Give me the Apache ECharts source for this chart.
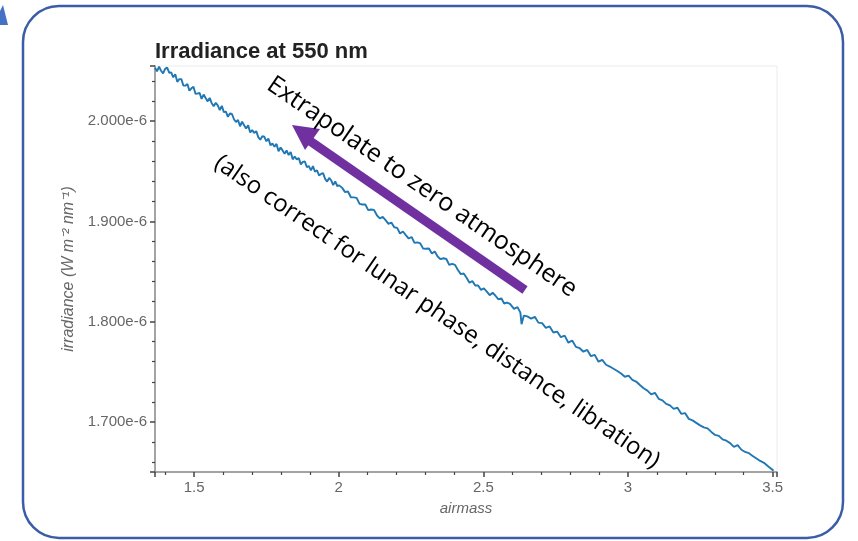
<!DOCTYPE html>
<html lang="en">
<head>
    <meta charset="UTF-8">
    <script src="https://cdn.jsdelivr.net/npm/echarts@6/dist/echarts.min.js"></script>
</head>
<style>
    html, body {
        margin: 0;
        width: 100%;
        height: 100%;
        background: #fff;
    }
</style>
<body>

<div id="main" style="width:858px;height:541px;"></div>

<script type="text/javascript">

    // airmass (x) and irradiance at 550 nm in units of 1e-6 W m^-2 nm^-1 (y)
    const airmass = [
        1.365, 1.372, 1.379, 1.386, 1.393, 1.400, 1.407, 1.414, 1.421, 1.428,
        1.435, 1.442, 1.449, 1.456, 1.463, 1.470, 1.477, 1.484, 1.491, 1.498,
        1.505, 1.512, 1.519, 1.526, 1.533, 1.540, 1.547, 1.554, 1.561, 1.568,
        1.575, 1.582, 1.589, 1.596, 1.603, 1.610, 1.617, 1.624, 1.631, 1.638,
        1.645, 1.652, 1.659, 1.666, 1.673, 1.680, 1.687, 1.694, 1.701, 1.708,
        1.715, 1.722, 1.729, 1.736, 1.743, 1.750, 1.757, 1.764, 1.771, 1.778,
        1.785, 1.792, 1.799, 1.806, 1.813, 1.820, 1.827, 1.834, 1.841, 1.848,
        1.855, 1.862, 1.869, 1.876, 1.883, 1.890, 1.897, 1.904, 1.911, 1.918,
        1.925, 1.932, 1.939, 1.946, 1.953, 1.960, 1.967, 1.974, 1.981, 1.988,
        1.995, 2.002,
        2.012, 2.022, 2.032, 2.042, 2.052, 2.062, 2.072, 2.082, 2.092, 2.102,
        2.112, 2.122, 2.132, 2.142, 2.152, 2.162, 2.172, 2.182, 2.192, 2.202,
        2.212, 2.222, 2.232, 2.242, 2.252, 2.262, 2.272, 2.282, 2.292, 2.302,
        2.312, 2.322, 2.332, 2.342, 2.352, 2.362, 2.372, 2.382, 2.392, 2.402,
        2.412, 2.422, 2.432, 2.442, 2.452, 2.462, 2.472, 2.482, 2.492, 2.502,
        2.512, 2.522, 2.532, 2.542, 2.552, 2.562, 2.572, 2.582, 2.592,
        2.606, 2.618, 2.628, 2.632, 2.640, 2.652, 2.665, 2.678, 2.690, 2.703,
        2.716, 2.729, 2.742, 2.755, 2.768, 2.781, 2.794, 2.807, 2.820, 2.833,
        2.846, 2.859, 2.872, 2.885, 2.898, 2.911, 2.924, 2.937, 2.950, 2.963,
        2.976, 2.989, 3.002, 3.015, 3.028, 3.041, 3.054, 3.067, 3.080, 3.093,
        3.106, 3.119, 3.132, 3.145, 3.158, 3.171, 3.184, 3.197, 3.210, 3.223,
        3.236, 3.249, 3.262, 3.275, 3.288, 3.301, 3.314, 3.327, 3.340, 3.353,
        3.366, 3.379, 3.392, 3.405, 3.418, 3.431, 3.444, 3.457, 3.470, 3.483,
        3.496, 3.503
    ];

    const irradiance = [
        2.0533, 2.0497, 2.0543, 2.0503, 2.0477, 2.0521, 2.0534, 2.0483, 2.0486, 2.0437,
        2.0467, 2.0392, 2.0419, 2.0419, 2.0355, 2.0354, 2.0371, 2.0304, 2.0327, 2.0342,
        2.0273, 2.0274, 2.0283, 2.0222, 2.0265, 2.0230, 2.0197, 2.0232, 2.0179, 2.0148,
        2.0183, 2.0158, 2.0111, 2.0153, 2.0090, 2.0095, 2.0043, 2.0076, 2.0071, 2.0019,
        1.9991, 2.0011, 1.9949, 1.9994, 1.9960, 1.9926, 1.9960, 1.9887, 1.9910, 1.9881,
        1.9900, 1.9841, 1.9814, 1.9849, 1.9844, 1.9799, 1.9826, 1.9759, 1.9776, 1.9744,
        1.9773, 1.9700, 1.9737, 1.9708, 1.9674, 1.9708, 1.9662, 1.9692, 1.9619, 1.9647,
        1.9619, 1.9631, 1.9569, 1.9594, 1.9597, 1.9542, 1.9551, 1.9508, 1.9551, 1.9495,
        1.9510, 1.9459, 1.9473, 1.9482, 1.9424, 1.9397, 1.9433, 1.9410, 1.9362, 1.9399,
        1.9353, 1.9359,
        1.9334, 1.9292, 1.9298, 1.9241, 1.9239, 1.9235, 1.9175, 1.9168, 1.9168, 1.9112,
        1.9119, 1.9115, 1.9061, 1.9029, 1.9045, 1.9013, 1.8975, 1.8989, 1.8941, 1.8935,
        1.8879, 1.8899, 1.8863, 1.8829, 1.8844, 1.8786, 1.8791, 1.8780, 1.8728, 1.8727,
        1.8729, 1.8679, 1.8699, 1.8649, 1.8623, 1.8632, 1.8625, 1.8566, 1.8577, 1.8566,
        1.8515, 1.8474, 1.8480, 1.8437, 1.8388, 1.8404, 1.8360, 1.8360, 1.8316, 1.8332,
        1.8300, 1.8264, 1.8289, 1.8258, 1.8222, 1.8233, 1.8181, 1.8190, 1.8177,
        1.8128, 1.8145, 1.8090, 1.7975, 1.8060, 1.8052, 1.8030, 1.8048, 1.7990, 1.7985,
        1.7938, 1.7952, 1.7892, 1.7901, 1.7845, 1.7860, 1.7790, 1.7812, 1.7748, 1.7735,
        1.7700, 1.7718, 1.7655, 1.7668, 1.7600, 1.7618, 1.7570, 1.7552, 1.7530, 1.7508,
        1.7482, 1.7450, 1.7461, 1.7420, 1.7402, 1.7368, 1.7335, 1.7312, 1.7275, 1.7290,
        1.7230, 1.7215, 1.7180, 1.7165, 1.7130, 1.7142, 1.7080, 1.7088, 1.7030, 1.7015,
        1.6990, 1.6965, 1.6945, 1.6935, 1.6900, 1.6870, 1.6860, 1.6825, 1.6812, 1.6788,
        1.6750, 1.6768, 1.6722, 1.6700, 1.6688, 1.6660, 1.6635, 1.6610, 1.6592, 1.6560,
        1.6530, 1.6512
    ];

    const xRange = [1.365, 3.515];
    const yRange = [1.65, 2.055];

    const annotations = [
        'Extrapolate to zero atmosphere',
        '(also correct for lunar phase, distance, libration)'
    ];

    const points = airmass.map(function (x, i) {
        return [x, irradiance[i]];
    });

    let myEcharts = echarts.init(document.getElementById('main'));

    const tickFont = {
        color: '#666',
        fontSize: 15,
        fontFamily: 'Liberation Sans, Arial, sans-serif'
    };

    const angle = -34.5 * Math.PI / 180;

    let option = {
        animation: false,
        backgroundColor: '#fff',
        title: {
            text: 'Irradiance at 550 nm',
            left: 150,
            top: 36,
            textStyle: {
                color: '#222',
                fontSize: 22,
                fontWeight: 'bold',
                fontFamily: 'Liberation Sans, Arial, sans-serif'
            }
        },
        grid: {
            left: 155,
            right: 81,
            top: 66,
            bottom: 69,
            show: true,
            borderColor: '#ececec',
            borderWidth: 1
        },
        xAxis: {
            type: 'value',
            min: xRange[0],
            max: xRange[1],
            minInterval: 0.5,
            maxInterval: 0.5,
            name: 'airmass',
            nameLocation: 'middle',
            nameGap: 29,
            nameTextStyle: {
                color: '#666',
                fontSize: 15,
                fontStyle: 'italic',
                fontFamily: 'Liberation Sans, Arial, sans-serif'
            },
            axisLine: {onZero: false, lineStyle: {color: '#888', width: 1.5}},
            axisTick: {length: 5, lineStyle: {color: '#444', width: 1.5}},
            minorTick: {show: true, splitNumber: 5, length: 3, lineStyle: {color: '#444', width: 1.2}},
            axisLabel: Object.assign({margin: 8, showMinLabel: false, showMaxLabel: false}, tickFont),
            splitLine: {show: false}
        },
        yAxis: {
            type: 'value',
            min: yRange[0],
            max: yRange[1],
            minInterval: 0.1,
            maxInterval: 0.1,
            name: 'irradiance (W m\u207B\u00B2 nm\u207B\u00B9)',
            nameLocation: 'middle',
            nameGap: 76,
            nameTextStyle: {
                color: '#666',
                fontSize: 16,
                fontStyle: 'italic',
                fontFamily: 'Liberation Sans, Arial, sans-serif'
            },
            axisLine: {show: true, onZero: false, lineStyle: {color: '#888', width: 1.5}},
            axisTick: {show: true, length: 5, lineStyle: {color: '#444', width: 1.5}},
            minorTick: {show: true, splitNumber: 5, length: 3, lineStyle: {color: '#444', width: 1.2}},
            axisLabel: Object.assign({
                margin: 8,
                showMinLabel: false,
                showMaxLabel: false,
                formatter: function (v) {
                    return v.toFixed(3) + 'e-6';
                }
            }, tickFont),
            splitLine: {show: false}
        },
        series: [
            {
                type: 'line',
                data: points,
                showSymbol: false,
                lineStyle: {color: '#1f77b4', width: 1.9},
                z: 3
            }
        ],
        graphic: [
            // slide frame
            {
                type: 'rect',
                shape: {x: 23, y: 6, width: 820, height: 532, r: 36},
                style: {fill: 'none', stroke: '#3b5ca6', lineWidth: 2.5},
                z: 10
            },
            {
                type: 'polygon',
                shape: {points: [[0, 11], [3, 5], [8, 25], [0, 25]]},
                style: {fill: '#4472c4'},
                z: 10
            },
            // purple arrow
            {
                type: 'line',
                shape: {x1: 525, y1: 290, x2: 310, y2: 141},
                style: {stroke: '#7030a0', lineWidth: 9},
                z: 10
            },
            {
                type: 'polygon',
                shape: {points: [[292, 125], [320, 129], [305, 150]]},
                style: {fill: '#7030a0'},
                z: 10
            },
            {
                type: 'text',
                x: 422,
                y: 187,
                rotation: angle,
                style: {
                    text: annotations[0],
                    fill: '#000',
                    fontSize: 25,
                    fontFamily: 'Open Sans, Noto Sans, sans-serif',
                    align: 'center',
                    verticalAlign: 'middle'
                },
                z: 11
            },
            {
                type: 'text',
                x: 437,
                y: 312,
                rotation: angle,
                style: {
                    text: annotations[1],
                    fill: '#000',
                    fontSize: 24,
                    fontFamily: 'Open Sans, Noto Sans, sans-serif',
                    align: 'center',
                    verticalAlign: 'middle'
                },
                z: 11
            }
        ]
    };

    myEcharts.setOption(option);

</script>
</body>
</html>
